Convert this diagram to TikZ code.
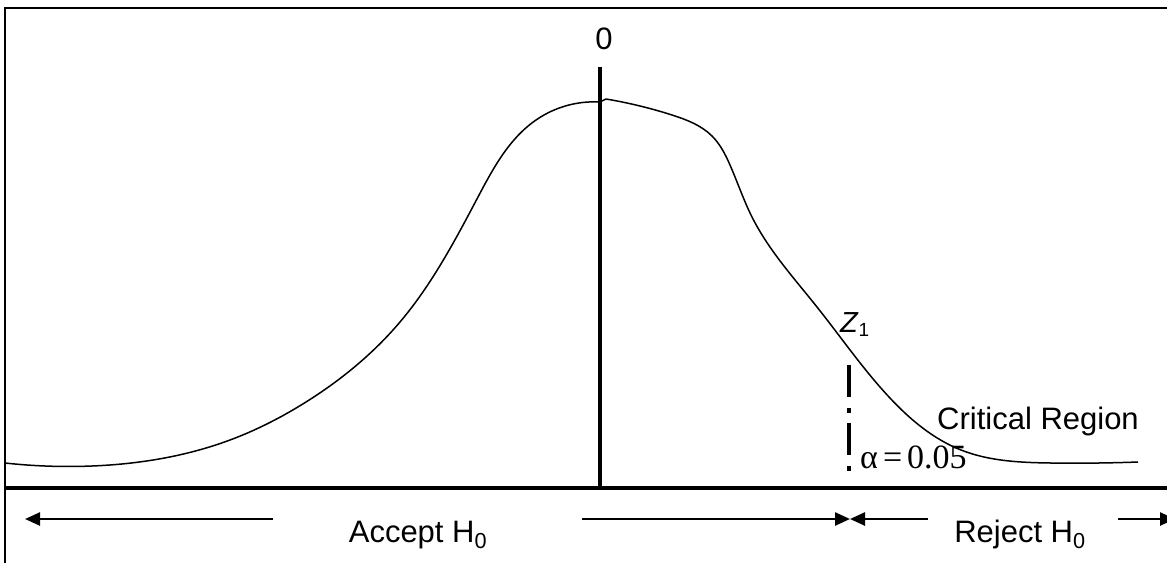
\documentclass[tikz,border=0pt]{standalone}
\usepackage{fontspec}
\setmainfont{Liberation Sans}
\newfontfamily\alphafont{Liberation Serif}
\usetikzlibrary{arrows.meta, positioning, hobby}

\begin{document}
\begin{tikzpicture}[
      x=1pt, y=-1pt,
      lbl/.style={inner sep=0pt, font=\fontsize{31}{36}\selectfont},
      ar/.style={-{Triangle[length=15pt,width=13pt]}, line width=2.5pt},
      thickln/.style={line width=3.4pt},
      curve/.style={line width=1.5pt, use Hobby shortcut},
      cutline/.style={line width=3.5pt, dash pattern=on 32pt off 11pt on 5pt off 10pt},
    ]
    \useasboundingbox (0,0) rectangle (1167,563);

    % frame and axes
    \draw[line width=2pt] (5,563) -- (5,8) -- (1167,8);
    \draw[thickln] (5,488) -- (1167,488);
    \coordinate (top) at (600,67);
    \coordinate (foot) at (600,488);
    \draw[thickln] (top) -- (foot);
    \node[lbl, anchor=base] (zero) at (604,49) {0};

    % distribution curve
    \draw[curve] (5,463) .. (92,466) .. (230,440) .. (306,402) .. (400,322)
      .. (478,197) .. (536,120) .. (600,102);
    \draw[line width=1.5pt] (600,102) -- (606,99);
    \draw[curve] (606,99) .. (672,115) .. (712,136) .. (730,165) .. (752,217)
      .. (817,307) .. (889,397) .. (961,450) .. (1051,463) .. (1138,462);

    % critical value
    \coordinate (ztop) at (849,365);
    \coordinate (zbot) at (849,473);
    \draw[cutline] (ztop) -- (zbot);
    \node[lbl, anchor=base west, font=\fontsize{29}{34}\selectfont] (z1) at (840,332)
      {\textit{Z}{\fontsize{19}{20}\selectfont\raisebox{-4pt}{1}}};
    \node[lbl, anchor=base west, font=\alphafont\fontsize{34}{38}\selectfont] (alpha)
      at (860,468) {α\hspace{5pt}=\hspace{5pt}0.05};
    \node[lbl, anchor=base] (crit) at (1038,429) {Critical Region};

    % regions
    \node[lbl, anchor=base] (accept) at (418,542) {Accept H\textsubscript{0}};
    \node[lbl, anchor=base] (reject) at (1020,542) {Reject H\textsubscript{0}};
    \coordinate (cut) at (850,519);
    \coordinate (accL) at (273,519);
    \coordinate (tipL) at (25,519);
    \coordinate (accR) at (582,519);
    \coordinate (rejL) at (928,519);
    \coordinate (rejR) at (1118,519);
    \coordinate (tipR) at (1175,519);

    \draw[ar] (accL) -- (tipL);
    \draw[ar] (accR) -- (cut);
    \draw[ar] (rejL) -- (cut);
    \draw[ar] (rejR) -- (tipR);
  \end{tikzpicture}
\end{document}
